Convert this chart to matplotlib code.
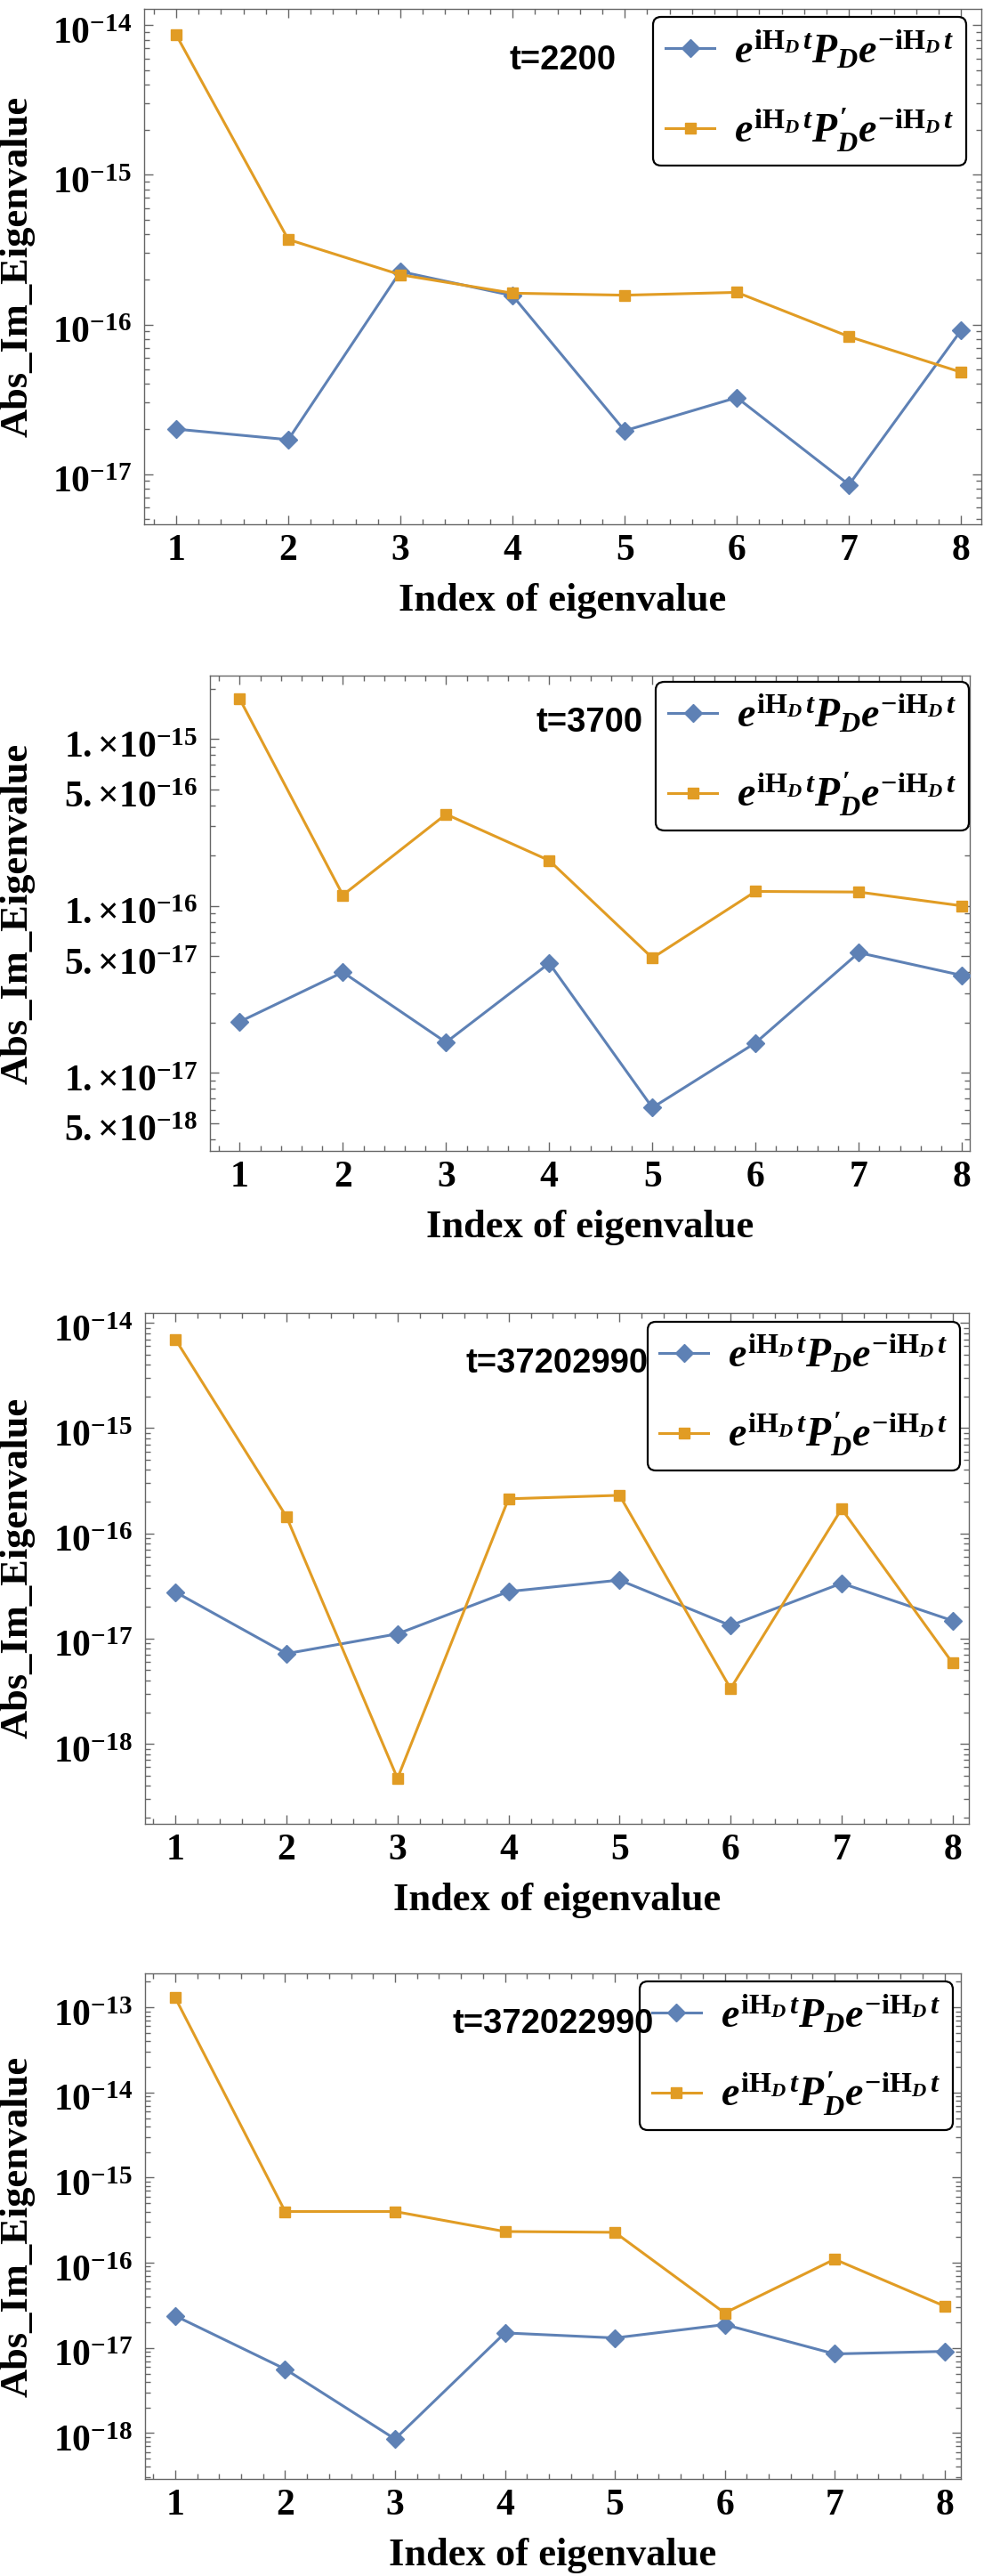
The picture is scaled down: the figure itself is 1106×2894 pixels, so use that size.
import numpy as np
import matplotlib
matplotlib.use("Agg")
import matplotlib.pyplot as plt
import matplotlib.transforms as mtransforms
from matplotlib.ticker import LogLocator, FixedLocator, FuncFormatter, MultipleLocator, LogFormatterMathtext, NullFormatter

# ---------------- data ----------------
index = [1, 2, 3, 4, 5, 6, 7, 8]
times = ["2200", "3700", "37202990", "372022990"]

p1_blue = [2.0e-17, 1.7e-17, 2.26e-16, 1.56e-16, 1.95e-17, 3.25e-17, 8.5e-18, 9.15e-17]
p1_orange = [8.65e-15, 3.7e-16, 2.15e-16, 1.62e-16, 1.57e-16, 1.64e-16, 8.3e-17, 4.8e-17]

p2_blue = [2.02e-17, 4.0e-17, 1.52e-17, 4.53e-17, 6.17e-18, 1.51e-17, 5.24e-17, 3.83e-17]
p2_orange = [1.74e-15, 1.16e-16, 3.54e-16, 1.87e-16, 4.87e-17, 1.22e-16, 1.21e-16, 1.0e-16]

p3_blue = [2.77e-17, 7.2e-18, 1.11e-17, 2.8e-17, 3.6e-17, 1.33e-17, 3.36e-17, 1.48e-17]
p3_orange = [6.98e-15, 1.44e-16, 4.7e-19, 2.13e-16, 2.3e-16, 3.35e-18, 1.71e-16, 5.85e-18]

p4_blue = [2.38e-17, 5.64e-18, 8.5e-19, 1.5e-17, 1.31e-17, 1.88e-17, 8.5e-18, 9.1e-18]
p4_orange = [1.3e-13, 4.0e-16, 4.0e-16, 2.33e-16, 2.28e-16, 2.57e-17, 1.1e-16, 3.1e-17]

blue_series = [p1_blue, p2_blue, p3_blue, p4_blue]
orange_series = [p1_orange, p2_orange, p3_orange, p4_orange]

p2_major_ticks = [1e-15, 5e-16, 1e-16, 5e-17, 1e-17, 5e-18]

label_blue = r"$e^{\mathrm{iH}_{D}\,t}P_{D}e^{-\mathrm{iH}_{D}\,t}$"
label_orange = r"$e^{\mathrm{iH}_{D}\,t}P^{\prime}_{D}e^{-\mathrm{iH}_{D}\,t}$"
xlabel = "Index of eigenvalue"
ylabel = "Abs_Im_Eigenvalue"

# ---------------- style ----------------
plt.rcParams["font.family"] = ["Liberation Serif", "DejaVu Serif"]
plt.rcParams["font.weight"] = "bold"
plt.rcParams["mathtext.fontset"] = "custom"
plt.rcParams["mathtext.rm"] = "Liberation Serif:bold"
plt.rcParams["mathtext.it"] = "Liberation Serif:bold:italic"
plt.rcParams["mathtext.bf"] = "Liberation Serif:bold"
plt.rcParams["axes.unicode_minus"] = True

BLUE = "#5E81B5"
ORANGE = "#E19C24"
FRAME = "#666666"

W, H = 1106, 2894
fig = plt.figure(figsize=(W / 100, H / 100), dpi=100)

# axes boxes in pixels: left, right, top, bottom
boxes = [
    (162, 1103, 10, 589),
    (236, 1090, 759, 1293),
    (163, 1088.6, 1474.6, 2049),
    (163, 1080, 2217, 2785),
]
xlims = [(0.715, 8.18), (0.712, 8.076), (0.726, 8.143), (0.725, 8.149)]
ylims_log = [(-17.335, -13.891), (-17.469, -14.62), (-18.76, -13.902), (-18.54, -12.6)]
legend_anchor = [(0.982, 0.984), (0.999, 0.987), (0.990, 0.982), (0.990, 0.984)]


def sci_fmt(v, pos):
    e = int(np.floor(np.log10(v) + 1e-9))
    m = int(round(v / 10.0 ** e))
    return r"$%d.{\times}10^{%d}$" % (m, e)


shift_down = mtransforms.ScaledTranslation(0, -6 / 100, fig.dpi_scale_trans)

for k in range(4):
    l, r, t, b = boxes[k]
    ax = fig.add_axes([l / W, 1 - b / H, (r - l) / W, (b - t) / H])
    ax.set_yscale("log")
    ax.plot(index, blue_series[k], color=BLUE, lw=2.2, marker="D", ms=10,
            mec=BLUE, mfc=BLUE, label=label_blue, zorder=3)
    ax.plot(index, orange_series[k], color=ORANGE, lw=2.2, marker="s", ms=8,
            mec=ORANGE, mfc=ORANGE, label=label_orange, zorder=3)
    ax.set_xlim(*xlims[k])
    ax.set_ylim(10 ** ylims_log[k][0], 10 ** ylims_log[k][1])

    ax.xaxis.set_major_locator(FixedLocator(index))
    ax.xaxis.set_minor_locator(MultipleLocator(0.2))
    if k == 1:
        ax.yaxis.set_major_locator(FixedLocator(p2_major_ticks))
        ax.yaxis.set_major_formatter(FuncFormatter(sci_fmt))
    else:
        ax.yaxis.set_major_locator(LogLocator(base=10, numticks=20))
        ax.yaxis.set_major_formatter(LogFormatterMathtext())
    ax.yaxis.set_minor_locator(LogLocator(base=10, subs=np.arange(2, 10), numticks=40))
    ax.yaxis.set_minor_formatter(NullFormatter())

    for s in ax.spines.values():
        s.set_color(FRAME)
        s.set_linewidth(1.0)
    ax.tick_params(which="both", direction="in", top=True, right=True, color=FRAME, width=1.0)
    ax.tick_params(which="major", length=7, labelsize=30, pad=8)
    ax.tick_params(which="minor", length=4)
    ax.tick_params(axis="y", which="major", pad=10)

    ax.set_xlabel(xlabel, fontsize=32, fontweight="bold", labelpad=12)
    ax.set_ylabel(ylabel, fontsize=32, fontweight="bold", va="center")
    ax.yaxis.set_label_coords(20 / W, 1 - (t + b) / 2 / H, transform=fig.transFigure)

    leg = ax.legend(loc="upper right", bbox_to_anchor=legend_anchor[k], borderaxespad=0,
                    fontsize=33, frameon=True, fancybox=True, edgecolor="black",
                    framealpha=1, numpoints=1, handlelength=1.2, handletextpad=0.48,
                    labelspacing=0.85, borderpad=0.3)
    leg.get_frame().set_linewidth(1.6)
    leg.set_zorder(5)

    ax.text(0.5, 0.9, "t=" + times[k], transform=ax.transAxes, ha="center", va="center",
            fontsize=27.5, fontweight="bold", family=["Liberation Sans", "DejaVu Sans"], zorder=10)

    # put the base of each y tick label on its tick (exponent sticks up)
    nt = len(ax.yaxis.get_majorticklocs())
    for tick in ax.yaxis.get_major_ticks(nt):
        tick.label1.set_transform(tick.label1.get_transform() + shift_down)
        tick.label1.set_fontweight("bold")
    for tick in ax.xaxis.get_major_ticks(len(index)):
        tick.label1.set_fontweight("bold")

fig.savefig("out.png", dpi=100)
